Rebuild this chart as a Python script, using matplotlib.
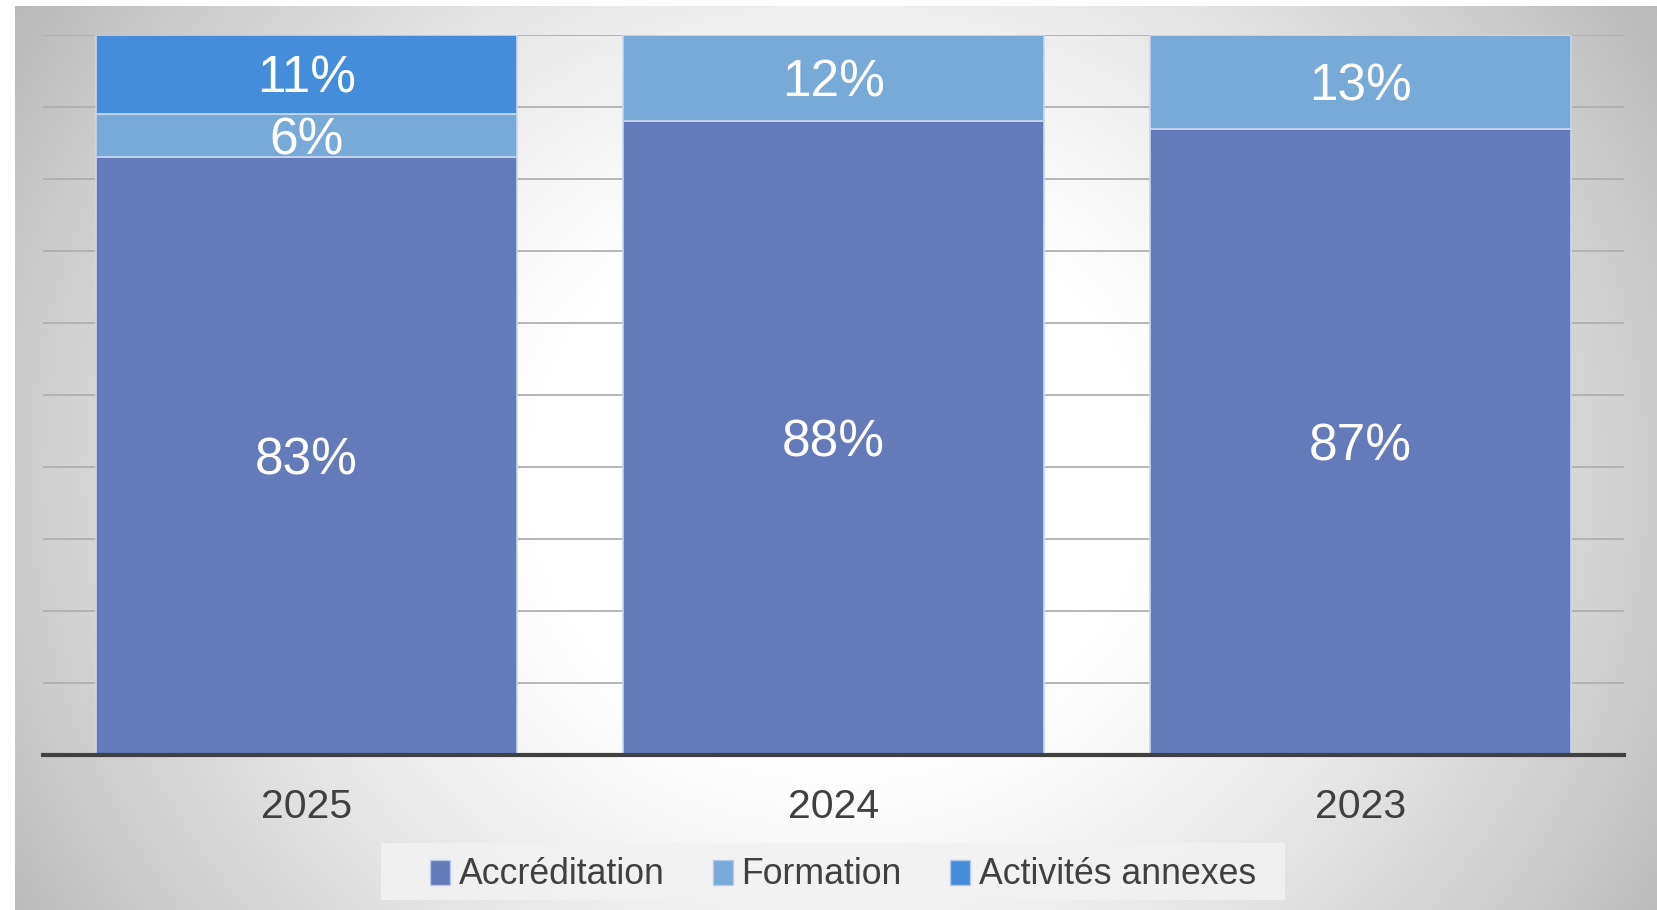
import numpy as np
import matplotlib
matplotlib.use("Agg")
import matplotlib.pyplot as plt
from matplotlib.patches import Patch, Rectangle
import matplotlib.transforms as mtransforms

plt.rcParams['font.family'] = ['Liberation Sans', 'DejaVu Sans']

# ---- data ----
categories = ["2025", "2024", "2023"]
series_names = ["Accréditation", "Formation", "Activités annexes"]
accreditation = [83, 88, 87]
formation = [6, 12, 13]
activites = [11, 0, 0]
series_values = [accreditation, formation, activites]
colors = ["#637BB8", "#78AAD7", "#448DDA"]

W, H = 1658, 910
fig = plt.figure(figsize=(W / 100, H / 100), dpi=100, facecolor="white")

# radial gradient background
bg = fig.add_axes([15 / W, 0, 1 - 15 / W, 1 - 6 / H])
bg.set_axis_off()
ny, nx = 300, 540
yy, xx = np.mgrid[0:ny, 0:nx]
dx = (xx - nx * 0.5) / (nx * 0.5)
dy = (yy - ny * 0.52) / (ny * 0.5)
r = np.sqrt(dx ** 2 + (dy * 0.6) ** 2)
t = np.clip((r - 0.35) / 0.65, 0, None)
v = 1 - 0.2 * t ** 1.3
v = np.clip(v, 0.72, 1)
img = np.dstack([v, v, v])
bg.imshow(img, aspect="auto", extent=[0, 1, 0, 1], interpolation="bicubic")
bg.set_xlim(0, 1)
bg.set_ylim(0, 1)

# legend background box
fig.patches.append(Rectangle((381 / W, 1 - 900 / H), (1285 - 381) / W, (900 - 843) / H,
                             transform=fig.transFigure, facecolor="#F2F2F2", alpha=0.85,
                             edgecolor="none", zorder=1))

ax = fig.add_axes([43 / W, 1 - 755 / H, (1624 - 43) / W, (755 - 35) / H])
ax.patch.set_alpha(0)
x = np.arange(len(categories))
bottom = np.zeros(len(categories))
offset = mtransforms.offset_copy(ax.transData, fig=fig, x=0, y=-3.5, units="points")
for name, vals, c in zip(series_names, series_values, colors):
    vals = np.array(vals, dtype=float)
    ax.bar(x, vals, width=0.8, bottom=bottom, color=c, edgecolor="#C8D6EE",
           linewidth=1.2, zorder=3, label=name)
    for xi, b, vv in zip(x, bottom, vals):
        if vv > 0:
            ax.text(xi, b + vv / 2, f"{int(vv)}%", ha="center", va="center",
                    color="white", fontsize=37, zorder=5, transform=offset)
    bottom += vals

ax.set_xlim(-0.5, 2.5)
ax.set_ylim(0, 100)
ax.set_yticks(np.arange(0, 101, 10))
ax.yaxis.grid(True, color="#B0B0B0", linewidth=1.3, zorder=0)
ax.tick_params(axis="y", left=False, labelleft=False)
ax.tick_params(axis="x", bottom=False, pad=20.5, labelsize=29.5, labelcolor="#404040")
ax.set_xticks(x)
ax.set_xticklabels(categories)
for s in ["left", "right", "top"]:
    ax.spines[s].set_visible(False)
ax.spines["bottom"].set_color("#404040")
ax.spines["bottom"].set_linewidth(3)
ax.spines["bottom"].set_zorder(6)

handles = [Patch(facecolor=c, edgecolor="#B8C8E8", linewidth=1) for c in colors]
leg = fig.legend(handles, series_names, loc="center", bbox_to_anchor=(843 / W, 1 - 875 / H),
                 ncol=3, frameon=False, fontsize=25.7, handlelength=0.55, handleheight=0.7,
                 handletextpad=0.25, columnspacing=1.35, borderpad=0.35,
                 labelcolor="#404040")
leg.set_zorder(2)

fig.savefig("out.png", dpi=100, facecolor="white")
